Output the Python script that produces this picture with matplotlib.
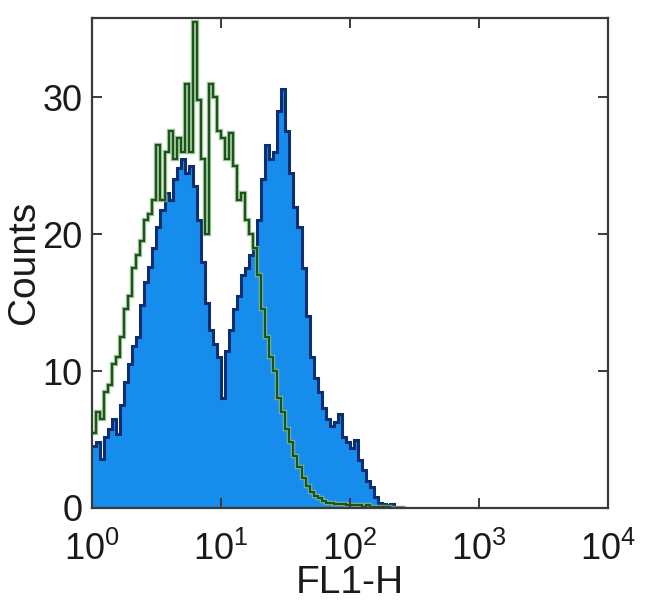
import numpy as np
import matplotlib
matplotlib.use('Agg')
import matplotlib.pyplot as plt
from matplotlib.ticker import NullLocator, FixedLocator

plt.rcParams['font.family'] = ['Liberation Sans', 'DejaVu Sans']
plt.rcParams['mathtext.fontset'] = 'custom'
plt.rcParams['mathtext.rm'] = 'Liberation Sans'

# channel grid: 32 bins per decade, starting at 10^0
bins_per_decade = 32

# stained sample (filled blue histogram), counts per bin
stained = [4.5, 4.8, 3.6, 5.2, 5.8, 6.5, 5.4, 7.5, 9.2, 10.5,
           11.8, 12.5, 14.8, 16.5, 17.6, 19.0, 20.5, 21.8, 23.0, 22.5,
           24.0, 24.8, 25.5, 24.5, 25.0, 23.5, 21.0, 18.0, 15.0, 13.0,
           12.0, 11.0, 8.0, 11.5, 13.0, 14.5, 15.5, 17.0, 17.5, 18.5,
           19.0, 21.0, 24.0, 26.5, 25.5, 26.0, 29.0, 30.6, 27.5, 24.5,
           22.0, 20.5, 17.5, 14.0, 11.0, 9.5, 8.5, 7.3, 6.5, 6.0,
           6.3, 6.9, 5.2, 4.8, 4.4, 5.0, 3.5, 2.8, 2.0, 1.5,
           0.8, 0.4, 0.3, 0.2, 0.3, 0.1, 0.1, 0.0]

# control sample (green open histogram)
control = [5.5, 7.0, 6.5, 8.5, 9.0, 10.5, 11.0, 12.5, 14.5, 15.5,
           17.5, 18.5, 19.5, 21.0, 21.5, 22.5, 26.5, 22.5, 26.0, 27.5,
           25.5, 27.0, 26.0, 31.0, 26.0, 35.5, 29.8, 25.5, 20.0, 31.0,
           30.0, 27.5, 27.0, 25.5, 27.4, 25.0, 22.5, 23.0, 21.0, 20.0,
           19.0, 17.0, 14.5, 12.5, 11.0, 10.0, 8.0, 7.0, 5.8, 4.8,
           3.8, 3.0, 2.2, 1.6, 1.2, 0.9, 0.7, 0.5, 0.4, 0.4,
           0.3, 0.3, 0.3, 0.2, 0.2, 0.2, 0.2, 0.1, 0.2, 0.1,
           0.1, 0.1, 0.1, 0.1, 0.0, 0.0, 0.0, 0.0]

y_ticks = [0, 10, 20, 30]
x_ticks = [1, 10, 100, 1000, 10000]

edges = 10 ** (np.arange(len(stained) + 1) / bins_per_decade)

fig = plt.figure(figsize=(6.5, 6.15), dpi=100)
ax = fig.add_axes([0.1415, 0.174, 0.7935, 0.797])

ax.stairs(stained, edges, fill=True, color='#168cec', baseline=0)
ax.stairs(stained, edges, color='#0d2f72', lw=2.2, baseline=None)
ax.stairs(control, edges, color='#8fbf88', lw=3.2, baseline=None, alpha=0.8)
ax.stairs(control, edges, color='#1b531b', lw=1.6, baseline=None)

ax.set_xscale('log')
ax.set_xlim(1, 1e4)
ax.set_ylim(0, 35.8)
ax.xaxis.set_major_locator(FixedLocator(x_ticks))
ax.xaxis.set_minor_locator(NullLocator())
ax.set_yticks(y_ticks)

for s in ax.spines.values():
    s.set_linewidth(1.6)
    s.set_color('#3a3a3a')

ax.tick_params(direction='in', length=7, width=1.4, color='#3a3a3a',
               top=True, right=True, labelsize=26, labelcolor='#1a1a1a')
ax.tick_params(axis='y', pad=7)
ax.tick_params(axis='x', pad=17)

ax.set_xlabel('FL1-H', fontsize=28, color='#1a1a1a', labelpad=-2)
ax.set_ylabel('Counts', fontsize=28, color='#1a1a1a', labelpad=0)

fig.savefig('out.png', dpi=100)
